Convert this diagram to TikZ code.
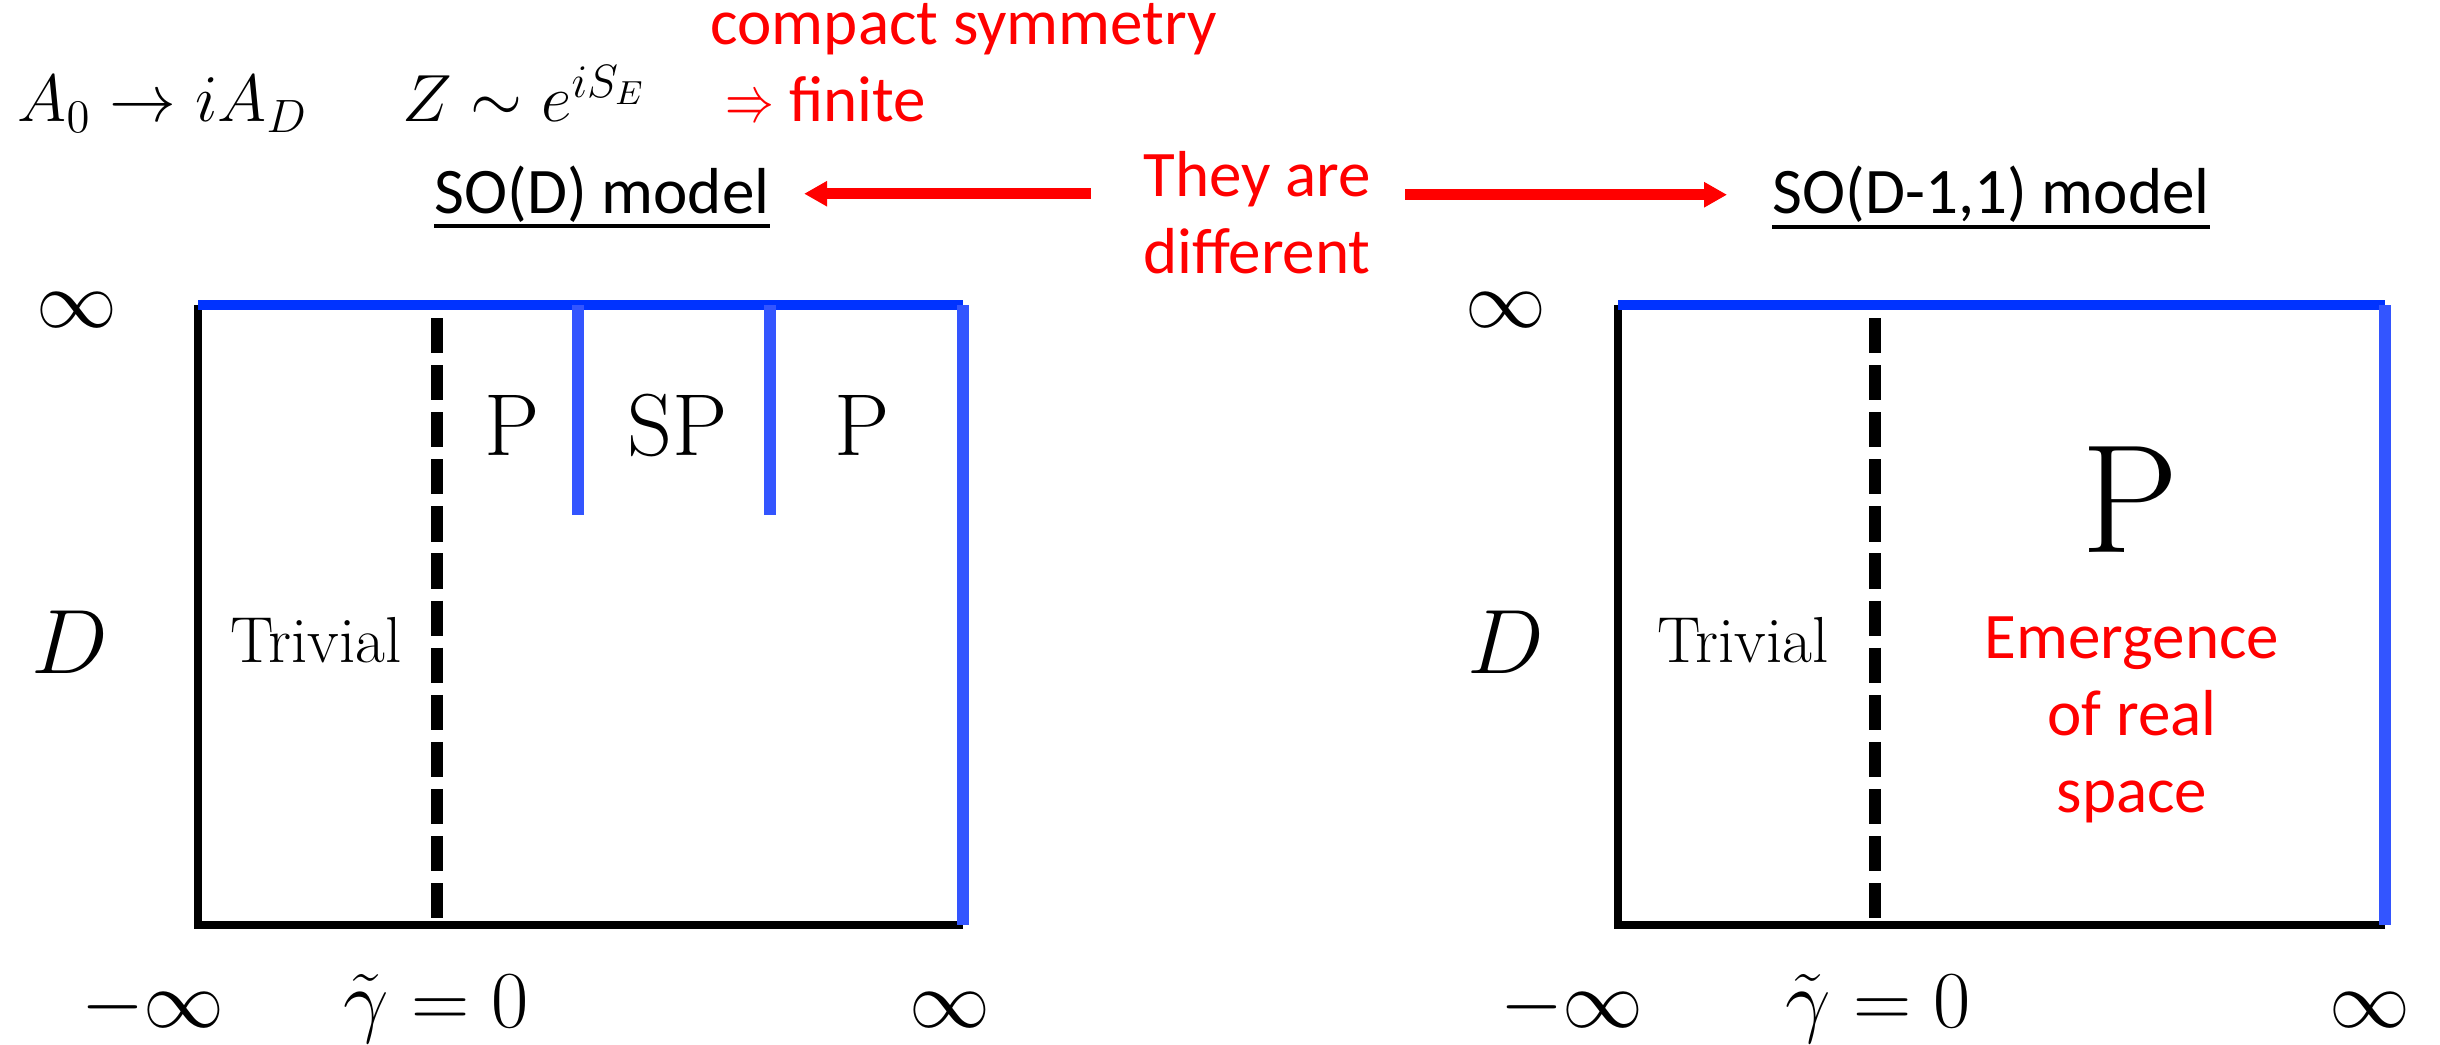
\RequirePackage{fix-cm}
\documentclass[tikz,border=0pt]{standalone}
\usepackage{graphicx}
\usepackage{fontspec}
\newfontfamily\calib{Carlito}
\usepackage{tikz}
\usetikzlibrary{positioning,arrows.meta}
\definecolor{lineblue}{RGB}{0,51,255}
\definecolor{tickblue}{RGB}{51,85,255}

\begin{document}
\begin{tikzpicture}[
        axis/.style={font=\fontsize{23}{27}\selectfont, inner sep=0pt},
        phase/.style={font=\fontsize{18.5}{22}\selectfont, inner sep=0pt},
        note/.style={font=\calib\fontsize{18.5}{22}\selectfont, text=red, inner sep=0pt, align=center},
        model/.style={font=\calib\fontsize{18.5}{22}\selectfont, inner sep=0pt},
        redarrow/.style={red, line width=3pt, -{Triangle[length=2.3mm, width=2.4mm]}},
        frame/.style={line width=2.3pt},
        border/.style={lineblue, line width=3pt},
        cut/.style={tickblue, line width=3.3pt},
        transition/.style={line width=3.3pt, dash pattern=on 10pt off 3.4pt}
    ]
        \useasboundingbox (0,0) rectangle (24.4,10.44);

        % Header formulas and notes
        \node[font=\fontsize{19}{23}\selectfont, inner sep=0pt, anchor=base west] (wick) at (0.17,9.22) {$A_0\to iA_D$};
        \node[font=\fontsize{19}{23}\selectfont, inner sep=0pt, anchor=base west] (zpart) at (4.02,9.22) {$Z\sim e^{iS_E}$};
        \node[note, anchor=base west] (compact) at (7.10,9.99) {compact symmetry};
        \node[note, anchor=base west] (finite) at (7.25,9.22) {\scalebox{0.75}[1]{$\Rightarrow$} finite};

        % Model titles
        \node[model, anchor=base west] (sod) at (4.34,8.31) {SO(D) model};
        \node[model, anchor=base west] (soml) at (17.72,8.30) {SO(D-1,1) model};
        \draw[line width=1.2pt] ([yshift=-1.3mm]sod.base west) -- ([yshift=-1.3mm]sod.base east);
        \draw[line width=1.2pt] ([yshift=-1.3mm]soml.base west) -- ([yshift=-1.3mm]soml.base east);

        \node[note] (diff) at (12.57,8.31) {They are\\different};
        \draw[redarrow, shorten <=5.2mm, shorten >=3.4mm] (diff.west |- sod.east) -- (sod.east);
        \draw[redarrow, shorten <=3.4mm, shorten >=4.5mm] (diff.east |- soml.west) -- (soml.west);

        % Left diagram
        \draw[frame] (9.63,1.19) -- (1.98,1.19) -- (1.98,7.39);
        \draw[border] (1.98,7.39) -- (9.63,7.39);
        \draw[cut] (9.63,7.39) -- (9.63,1.19);
        \draw[transition] (4.37,7.26) -- (4.37,1.19);
        \draw[cut] (5.78,7.39) -- (5.78,5.29);
        \draw[cut] (7.70,7.39) -- (7.70,5.29);

        \node[axis] (ltop) at (0.77,7.34) {$\infty$};
        \node[font=\fontsize{26}{31}\selectfont, inner sep=0pt] (ldim) at (0.70,4.02) {$D$};
        \node[axis, anchor=base] (lmin) at (1.53,0.17) {$-\infty$};
        \node[axis, anchor=base] (lzero) at (4.36,0.17) {$\tilde\gamma=0$};
        \node[axis, anchor=base] (lmax) at (9.50,0.17) {$\infty$};

        \node[phase, anchor=base] (ltriv) at (3.16,3.82) {Trivial};
        \node[font=\fontsize{25}{30}\selectfont, inner sep=0pt, anchor=base] (lp1) at (5.12,5.89) {P};
        \node[font=\fontsize{25}{30}\selectfont, inner sep=0pt, anchor=base] (lsp) at (6.78,5.89) {SP};
        \node[font=\fontsize{25}{30}\selectfont, inner sep=0pt, anchor=base] (lp2) at (8.62,5.89) {P};

        % Right diagram
        \draw[frame] (23.85,1.19) -- (16.18,1.19) -- (16.18,7.39);
        \draw[border] (16.18,7.39) -- (23.85,7.39);
        \draw[cut] (23.85,7.39) -- (23.85,1.19);
        \draw[transition] (18.75,7.26) -- (18.75,1.19);

        \node[axis] (rtop) at (15.06,7.34) {$\infty$};
        \node[font=\fontsize{26}{31}\selectfont, inner sep=0pt] (rdim) at (15.06,4.02) {$D$};
        \node[axis, anchor=base] (rmin) at (15.72,0.17) {$-\infty$};
        \node[axis, anchor=base] (rzero) at (18.78,0.17) {$\tilde\gamma=0$};
        \node[axis, anchor=base] (rmax) at (23.70,0.17) {$\infty$};

        \node[phase, anchor=base] (rtriv) at (17.43,3.82) {Trivial};
        \node[font=\fontsize{44}{50}\selectfont, inner sep=0pt, anchor=base] (rp) at (21.30,4.92) {P};
        \node[note] (emerge) at (21.32,3.24) {Emergence\\of real\\space};
    \end{tikzpicture}
\end{document}
